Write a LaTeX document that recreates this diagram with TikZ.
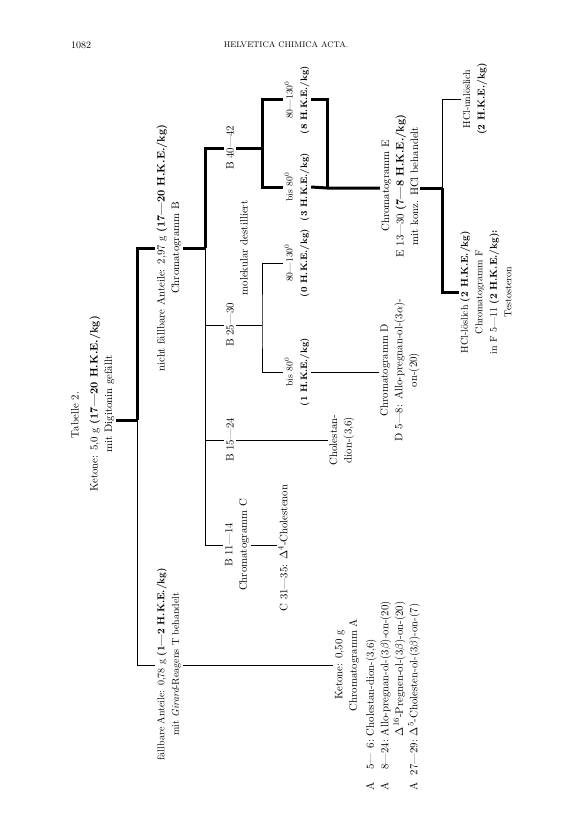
\documentclass[tikz,border=0pt]{standalone}
\usepackage{fontspec}
\newcommand\tabfont{\fontsize{10}{14.5}\selectfont}
\newcommand\bigtabfont{\fontsize{10.8}{14.5}\selectfont}
\newcommand\smalltabfont{\fontsize{9.3}{14.5}\selectfont}
\begin{document}
\begin{tikzpicture}[x=1pt,y=-1pt,
  txt/.style={rotate=90, align=center, inner sep=1.5pt, font=\tabfont},
  big/.style={font=\bigtabfont},
  small/.style={font=\smalltabfont},
  hdr/.style={inner sep=0pt, font=\fontsize{10}{11}\selectfont},
  thk/.style={line width=3pt},
  thn/.style={line width=0.7pt}]
\useasboundingbox (0,0) rectangle (576,840);
% header
\node[hdr] (pg) at (81,45) {1082};
\node[hdr, font=\fontsize{8.2}{10}\selectfont] (jn) at (286,45) {\addfontfeature{LetterSpace=8}HELVETICA CHIMICA ACTA.};
% title
\node[txt, big] (tab) at (75,415) {\addfontfeature{LetterSpace=15}Tabelle 2.};
\node[txt, big] (k0) at (102,404) {\addfontfeature{LetterSpace=4}Ketone: 5,0 g \textbf{(17---20 H.K.E./kg)}\\mit Digitonin gefällt};
% first split
\node[txt, big] (nf) at (169,248) {\addfontfeature{LetterSpace=3}nicht fällbare Anteile: 2,97 g \textbf{(17---20 H.K.E./kg)}\\Chromatogramm B};
\node[txt] (fb) at (169,664) {\addfontfeature{LetterSpace=3}fällbare Anteile: 0,78 g \textbf{(1---2 H.K.E./kg)}\\mit \textit{Girard}-Reagens T behandelt};
\node[txt, big] (ka) at (347,665) {Ketone: 0,50 g\\Chromatogramm A};
\node[txt, big, anchor=north west, align=left] (la) at (362,792) {%
\begin{tabular}{@{}l@{\ \ }r@{}l@{\ }l@{}}
A & 5---& \phantom{0}6: & Cholestan-dion-(3,6)\\
A & 8---& 24: & Allo-pregnan-ol-(3$\beta$)-on-(20)\\
  &     &     & \smash{$\Delta^{16}$}-Pregnen-ol-(3$\beta$)-on-(20)\\
A & 27---& 29: & \smash{$\Delta^{5}$}-Cholesten-ol-(3$\beta$)-on-(7)
\end{tabular}};
% B fractions
\node[txt, big] (b11) at (237,545) {B 11---14\\Chromatogramm C};
\node[txt, big] (b15) at (230,440) {B 15---24};
\node[txt, big] (b25) at (230,325) {B 25---30};
\node[txt, big] (b40) at (230,148) {B 40---42};
\node[txt, big] (mol) at (244,248) {molekular destilliert};
\node[txt, big] (c31) at (283,548) {C 31---35: $\Delta^4$-Cholestenon};
\node[txt, big] (chd) at (342,440) {Cholestan-\\dion-(3,6)};
\node[txt, small] (f1) at (297,372) {bis 80\textsuperscript{0}\\\textbf{(1 H.K.E./kg)}};
\node[txt, small] (f2) at (297,263) {80---130\textsuperscript{0}\\\textbf{(0 H.K.E./kg)}};
\node[txt, small] (f3) at (297,187) {bis 80\textsuperscript{0}\\\textbf{(3 H.K.E./kg)}};
\node[txt, small] (f4) at (297,100) {80---130\textsuperscript{0}\\\textbf{(8 H.K.E./kg)}};
\node[txt, big] (cd) at (400,370) {Chromatogramm D\\D 5---8: Allo-pregnan-ol-(3$\alpha$)-\\on-(20)};
\node[txt, big] (ce) at (400,186) {Chromatogramm E\\E 13---30 \textbf{(7---8 H.K.E./kg)}\\mit konz. HCl behandelt};
\node[txt] (hl) at (486,292) {HCl-löslich \textbf{(2 H.K.E./kg)}\\Chromatogramm F\\in F 5---11 \textbf{(2 H.K.E./kg):}\\Testosteron};
\node[txt] (hu) at (475,99) {HCl-unlöslich\\\textbf{(2 H.K.E./kg)}};
% junctions
\coordinate (j0) at (137,420);
\coordinate (jb) at (205,248);
\coordinate (jc) at (262,325);
\coordinate (jd) at (262,148);
\coordinate (je) at (327,188);
\coordinate (jf) at (442,188);
% connectors
\draw[thk] (k0.south |- j0) -- (j0);
\draw[thk] (j0) |- (nf.north);
\draw[thn] (j0) |- (fb.north |- ka);
\draw[thn] (fb.south |- ka) -- (ka.north);
\draw[thk] (nf.south) -- (jb);
\draw[thk] (jb) |- (b40.north);
\draw[thn] (jb) |- (b11.north);
\draw[thn] (jb |- b25) -- (b25.north);
\draw[thn] (jb |- b15) -- (b15.north);
\draw[thn] (b15.south) -- (chd.north);
\draw[thn] (b11.south) -- (c31.north |- b11);
\draw[thn] (b25.south) -- (jc);
\draw[thn] (f2.north) -| (jc) |- (f1.north);
\draw[thn] (f1.south) -- (f1.south -| cd.north);
\draw[thk] (b40.south) -- (jd);
\draw[thk] (f4.north) -| (jd) |- (f3.north);
\draw[thk] (f4.south) -| (je);
\draw[thk] (f3.south) -- (je) -- (je -| ce.north);
\draw[thk] (ce.south |- jf) -- (jf);
\draw[thk] (jf) |- (hl.north);
\draw[thn] (jf) |- (hu.north);
\end{tikzpicture}
\end{document}
